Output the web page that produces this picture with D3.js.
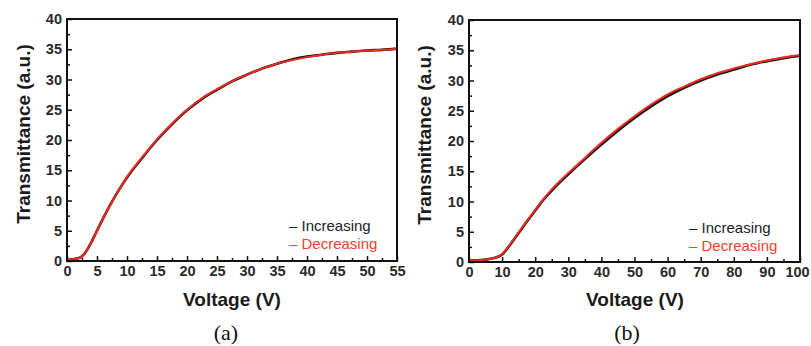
<!DOCTYPE html>
<html>
<head>
<meta charset="utf-8">
<script src="https://cdn.jsdelivr.net/npm/d3@7"></script>
<style>
  html, body { margin: 0; padding: 0; background: #fff; }
  svg { display: block; }
</style>
</head>
<body>
<svg id="chart" width="811" height="346"></svg>
<script>
// ---------- Data ----------
const voltageA = [0, 1, 2, 2.5, 3, 3.5, 4, 4.5, 5, 6, 7.5, 9, 10, 12.5, 15, 17.5, 20, 22.5, 25, 27.5, 30, 32.5, 35, 37.5, 40, 42.5, 45, 47.5, 50, 52.5, 55];
const increasingA = [0.2, 0.3, 0.5, 0.8, 1.3, 2.1, 3.0, 4.0, 5.0, 7.0, 9.8, 12.3, 13.8, 17.0, 20.0, 22.6, 24.9, 26.8, 28.3, 29.7, 30.8, 31.8, 32.6, 33.3, 33.8, 34.1, 34.4, 34.6, 34.8, 34.9, 35.1];
const decreasingA = [0.2, 0.3, 0.5, 0.8, 1.3, 2.1, 3.0, 4.0, 5.0, 7.0, 9.8, 12.3, 13.9, 17.1, 20.1, 22.7, 25.0, 26.9, 28.4, 29.7, 30.8, 31.8, 32.6, 33.2, 33.7, 34.1, 34.4, 34.6, 34.8, 34.9, 35.1];

const voltageB = [0, 2.5, 5, 7.5, 10, 12.5, 15, 17.5, 20, 22.5, 25, 27.5, 30, 35, 40, 45, 50, 55, 60, 65, 70, 75, 80, 85, 90, 95, 100];
const increasingB = [0.3, 0.3, 0.4, 0.65, 1.25, 2.9, 4.8, 6.7, 8.5, 10.3, 11.8, 13.2, 14.5, 17.0, 19.4, 21.7, 23.8, 25.7, 27.4, 28.8, 30.0, 31.0, 31.8, 32.6, 33.2, 33.7, 34.1];
const decreasingB = [0.3, 0.3, 0.4, 0.65, 1.3, 3.0, 4.9, 6.8, 8.6, 10.4, 12.0, 13.4, 14.7, 17.2, 19.7, 22.0, 24.1, 26.0, 27.7, 29.0, 30.2, 31.2, 32.0, 32.7, 33.3, 33.8, 34.2];

const xTicksA = [0, 5, 10, 15, 20, 25, 30, 35, 40, 45, 50, 55];
const xTicksB = [0, 10, 20, 30, 40, 50, 60, 70, 80, 90, 100];
const yTicks = [0, 5, 10, 15, 20, 25, 30, 35, 40];
const legendLabels = ["Increasing", "Decreasing"];
const panelLabels = ["(a)", "(b)"];

// ---------- Drawing ----------
const svg = d3.select("#chart");
const COL_INC = "#111111";
const COL_DEC = "#ec2a22";
const COL_DEC_TEXT = "#f0412f";
const SANS = "Liberation Sans, Arial, sans-serif";

const panels = [
  { left: 67, right: 397, top: 19, bottom: 261, xMax: 55, xTicks: xTicksA, xMinorStep: 2.5,
    v: voltageA, inc: increasingA, dec: decreasingA, label: panelLabels[0],
    legX: 289, legY: 231, labelX: 226, titleX: 232, yTitleX: 24 },
  { left: 469, right: 800, top: 20, bottom: 262, xMax: 100, xTicks: xTicksB, xMinorStep: 5,
    v: voltageB, inc: increasingB, dec: decreasingB, label: panelLabels[1],
    legX: 689, legY: 233, labelX: 627, titleX: 635, yTitleX: 425 }
];

panels.forEach(p => {
  const x = d3.scaleLinear().domain([0, p.xMax]).range([p.left, p.right]);
  const y = d3.scaleLinear().domain([0, 40]).range([p.bottom, p.top]);
  const g = svg.append("g");

  // minor ticks
  const xMinor = d3.range(0, p.xMax + 0.001, p.xMinorStep).filter(v => !p.xTicks.includes(v));
  const yMinor = d3.range(2.5, 40, 5);
  g.append("g").attr("transform", `translate(0,${p.bottom})`)
    .call(d3.axisBottom(x).tickValues(xMinor).tickSize(-3).tickFormat(""))
    .call(s => s.select(".domain").remove())
    .call(s => s.selectAll("line").attr("stroke", "#111").attr("stroke-width", 1.5));
  g.append("g").attr("transform", `translate(${p.left},0)`)
    .call(d3.axisLeft(y).tickValues(yMinor).tickSize(-3).tickFormat(""))
    .call(s => s.select(".domain").remove())
    .call(s => s.selectAll("line").attr("stroke", "#111").attr("stroke-width", 1.5));

  // major ticks with labels
  const xa = g.append("g").attr("transform", `translate(0,${p.bottom})`)
    .call(d3.axisBottom(x).tickValues(p.xTicks).tickSize(-5).tickPadding(5).tickFormat(d3.format("d")));
  const ya = g.append("g").attr("transform", `translate(${p.left},0)`)
    .call(d3.axisLeft(y).tickValues(yTicks).tickSize(-5).tickPadding(5).tickFormat(d3.format("d")));
  [xa, ya].forEach(a => {
    a.select(".domain").remove();
    a.selectAll("line").attr("stroke", "#111").attr("stroke-width", 1.5);
    a.selectAll("text").attr("font-family", SANS)
      .attr("font-weight", "bold").attr("font-size", 14.5).attr("fill", "#2a2a2a");
  });
  // keep the last x label inside the window
  xa.selectAll(".tick text").filter(d => d === p.xMax && p.xMax === 100).attr("dx", "-3");

  // curves
  const line = (vals) => d3.line().x((d, i) => x(p.v[i])).y(d => y(d)).curve(d3.curveMonotoneX)(vals);
  g.append("path").attr("d", line(p.inc)).attr("fill", "none").attr("stroke", COL_INC).attr("stroke-width", 2.6);
  g.append("path").attr("d", line(p.dec)).attr("fill", "none").attr("stroke", COL_DEC).attr("stroke-width", 2);

  // frame
  g.append("rect").attr("x", p.left).attr("y", p.top)
    .attr("width", p.right - p.left).attr("height", p.bottom - p.top)
    .attr("fill", "none").attr("stroke", "#111").attr("stroke-width", 2);

  // legend
  const leg = g.append("g").attr("font-family", SANS).attr("font-size", 15);
  legendLabels.forEach((lab, i) => {
    leg.append("text").attr("x", p.legX).attr("y", p.legY + i * 18)
      .attr("fill", i === 0 ? "#222" : COL_DEC_TEXT)
      .text("\u2013 " + lab);
  });

  // axis titles
  g.append("text").attr("x", p.titleX).attr("y", 306).attr("text-anchor", "middle")
    .attr("font-family", SANS).attr("font-weight", "bold")
    .attr("font-size", 19).attr("fill", "#1a1a1a").text("Voltage (V)");
  g.append("text").attr("transform", `translate(${p.yTitleX + 6},${(p.top + p.bottom) / 2 - 6}) rotate(-90)`)
    .attr("text-anchor", "middle")
    .attr("font-family", SANS).attr("font-weight", "bold")
    .attr("font-size", 19).attr("fill", "#1a1a1a").text("Transmittance (a.u.)");

  // panel label
  g.append("text").attr("x", p.labelX).attr("y", 340).attr("text-anchor", "middle")
    .attr("font-family", "Liberation Serif, Times New Roman, serif")
    .attr("font-size", 22).attr("fill", "#111").text(p.label);
});
</script>
</body>
</html>
